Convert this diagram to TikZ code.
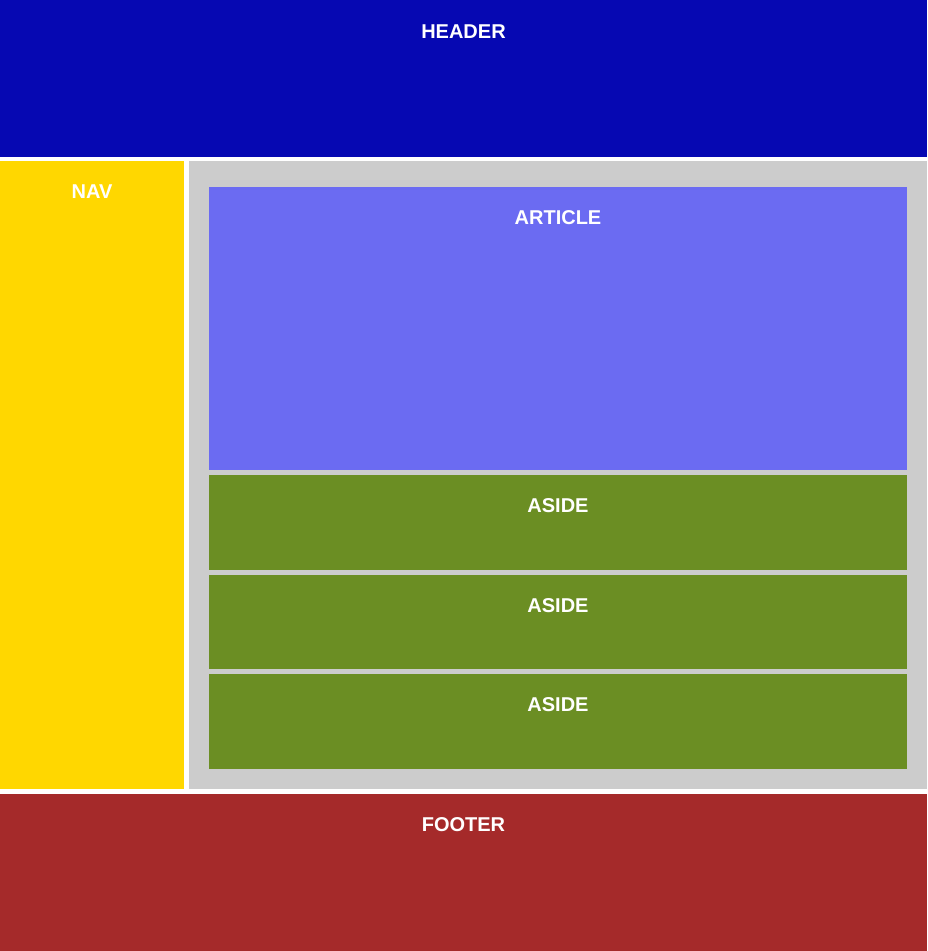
\documentclass[tikz,border=0pt]{standalone}
\usepackage{fontspec}
\setmainfont{Liberation Sans}
\usetikzlibrary{positioning}
\definecolor{headblue}{RGB}{6,8,178}
\definecolor{navgold}{RGB}{255,215,0}
\definecolor{artblue}{RGB}{107,107,242}
\definecolor{asidegreen}{RGB}{107,142,35}
\definecolor{footbrown}{RGB}{165,42,42}
\definecolor{maingray}{RGB}{204,204,204}

\begin{document}
\begin{tikzpicture}[x=1pt, y=-1pt]
\tikzstyle{block} = [rectangle, anchor=north west, inner sep=0pt, outer sep=0pt]
\tikzstyle{tag} = [text=white, font=\fontsize{20}{24}\selectfont\bfseries, inner sep=0pt]

\useasboundingbox [fill=white] (0,0) rectangle (927,951);

\node [block, fill=headblue, minimum width=927pt, minimum height=157pt] (header) at (0,0) {};
\node [block, fill=navgold, minimum width=184pt, minimum height=628pt] (nav) at (0,161) {};
\node [block, fill=maingray, minimum width=738pt, minimum height=628pt] (main) at (189,161) {};
\node [block, fill=artblue, minimum width=698pt, minimum height=283pt] (article) at (209,187) {};
\node [block, fill=asidegreen, minimum width=698pt, minimum height=95pt] (aside1) at (209,475) {};
\node [block, fill=asidegreen, minimum width=698pt, minimum height=94pt] (aside2) at (209,575) {};
\node [block, fill=asidegreen, minimum width=698pt, minimum height=95pt] (aside3) at (209,674) {};
\node [block, fill=footbrown, minimum width=927pt, minimum height=157pt] (footer) at (0,794) {};

\node [tag, below=32pt of header.north, anchor=center] (headertxt) {HEADER};
\node [tag, below=31pt of nav.north, anchor=center] (navtxt) {NAV};
\node [tag, below=31pt of article.north, anchor=center] (articletxt) {ARTICLE};
\node [tag, below=31pt of aside1.north, anchor=center] (aside1txt) {ASIDE};
\node [tag, below=31pt of aside2.north, anchor=center] (aside2txt) {ASIDE};
\node [tag, below=31pt of aside3.north, anchor=center] (aside3txt) {ASIDE};
\node [tag, below=31pt of footer.north, anchor=center] (footertxt) {FOOTER};
\end{tikzpicture}
\end{document}
